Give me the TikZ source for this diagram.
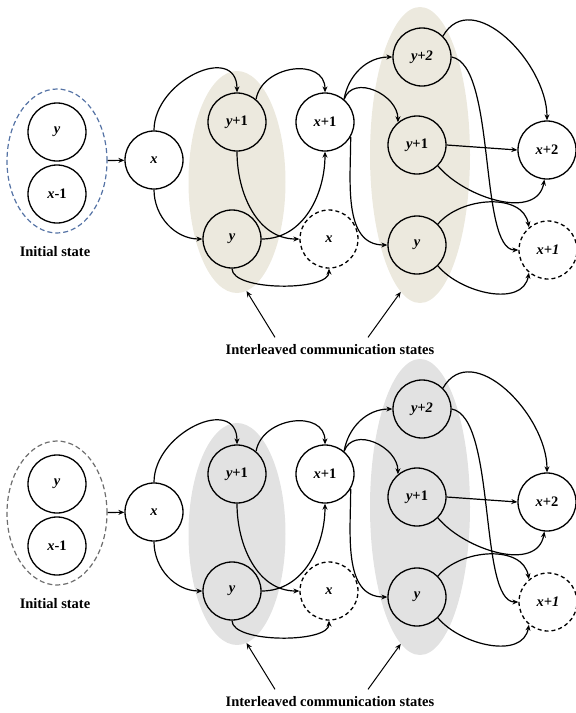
\documentclass[tikz,border=0pt]{standalone}
\usepackage{fontspec}
\setmainfont{Liberation Serif}
\usetikzlibrary{shapes.geometric,arrows.meta}
\definecolor{sandshade}{RGB}{236,233,222}
\definecolor{greyshade}{RGB}{226,226,226}
\definecolor{blueline}{RGB}{85,115,165}
\definecolor{greyline}{RGB}{110,110,110}

\begin{document}
\begin{tikzpicture}[x=1pt,y=1pt,
    font=\fontsize{14.5}{16}\selectfont\bfseries,
    state/.style={circle,draw,line width=1.3pt,minimum size=58pt,inner sep=0pt},
    ghost/.style={state,dash pattern=on 4pt off 3pt},
    band/.style={ellipse,inner sep=0pt},
    link/.style={-{Stealth[length=6pt,width=5pt]},line width=1.2pt}]
\useasboundingbox (0,0) rectangle (576,-713);
\foreach \p/\dy/\shd/\rim in {a/0/sandshade/blueline,b/352/greyshade/greyline}{
  \begin{scope}[yshift=-\dy pt]
    % shaded columns
    \node[band,fill=\shd,minimum width=97pt,minimum height=222pt] (\p-s1) at (237,-182) {};
    \node[band,fill=\shd,minimum width=100pt,minimum height=296pt] (\p-s2) at (420,-155) {};
    % initial state
    \node[band,draw=\rim,line width=1.2pt,dash pattern=on 5pt off 3pt,
          minimum width=100pt,minimum height=144pt] (\p-init) at (57,-161) {};
    \node[state] (\p-iy) at (57,-132) {\textit{y}};
    \node[state] (\p-ix) at (57,-194) {\textit{x}-1};
    \node (\p-cap) at (55,-252) {Initial state};
    % states
    \node[state] (\p-x) at (154,-160) {\textit{x}};
    \node[state] (\p-ya) at (237,-122) {\textit{y}+1};
    \node[state] (\p-yb) at (232,-239) {\textit{y}};
    \node[state] (\p-xa) at (325,-122) {\textit{x}+1};
    \node[ghost] (\p-xd) at (329,-239) {\textit{x}};
    \node[state] (\p-yc) at (422,-57) {\textit{y+2}};
    \node[state] (\p-ye) at (417,-145) {\textit{y}+1};
    \node[state] (\p-yf) at (417,-245) {\textit{y}};
    \node[state] (\p-xe) at (547,-150) {\textit{x}+2};
    \node[ghost] (\p-xf) at (548,-250) {\textit{x+1}};
    % edges
    \draw[link] (\p-init) -- (\p-x);
    \draw[link] (\p-x.north) to[out=90,in=90,looseness=1.4] (\p-ya.north);
    \draw[link] (\p-x.south) to[out=-90,in=180] (\p-yb.west);
    \draw[link] (\p-ya.south) to[out=-90,in=180] (\p-xd.west);
    \draw[link] (\p-yb.east) to[out=0,in=-90] (\p-xa.south);
    \draw[link] (\p-yb.south) to[out=-90,in=-90,looseness=0.6] (\p-xd.south);
    \draw[link] (\p-ya.50) to[out=80,in=90,looseness=1.3] (\p-xa.north);
    \draw[link] (\p-xa.50) to[out=80,in=180] (\p-yc.west);
    \draw[link] (\p-xa.50) to[out=70,in=90,looseness=1.2] (\p-ye.130);
    \draw[link] (\p-xa.-30) to[out=-90,in=180] (\p-yf.west);
    \draw[link] (\p-yc.45) to[out=60,in=90,looseness=1.1] (\p-xe.north);
    \draw[link] (\p-yc.east) .. controls +(45,-8) and +(-40,0) .. (\p-xf.west);
    \draw[link] (\p-ye.east) -- (\p-xe.west);
    \draw[link] (\p-ye.-45) to[out=-50,in=-100] (\p-xe.-95);
    \draw[link] (\p-yf.45) to[out=50,in=100] (\p-xf.130);
    \draw[link] (\p-yf.-45) to[out=-50,in=-100] (\p-xf.-130);
    % caption and pointers
    \node (\p-lab) at (330,-350) {Interleaved communication states};
    \coordinate (\p-pl) at ([xshift=-55pt,yshift=4pt]\p-lab.north);
    \coordinate (\p-pr) at ([xshift=38pt,yshift=4pt]\p-lab.north);
    \draw[link,line width=1pt] (\p-pl) -- (\p-s1.-85);
    \draw[link,line width=1pt] (\p-pr) -- (\p-s2.-98);
  \end{scope}
}
\end{tikzpicture}
\end{document}
